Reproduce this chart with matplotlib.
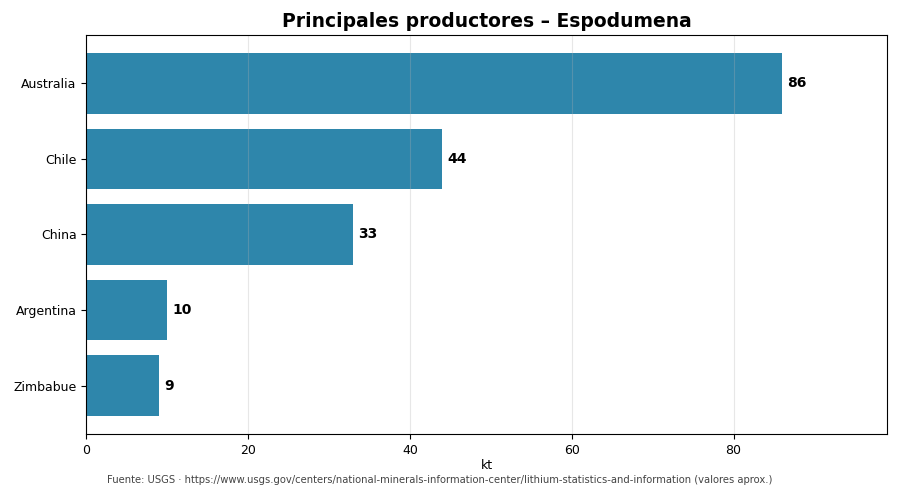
import matplotlib
matplotlib.use("Agg")
import matplotlib.pyplot as plt

# datos (kt, valores aproximados)
paises = ["Australia", "Chile", "China", "Argentina", "Zimbabue"]
produccion = [86, 44, 33, 10, 9]

fig, ax = plt.subplots(figsize=(9, 4.86), dpi=100)
fig.subplots_adjust(left=0.096, right=0.985, top=0.928, bottom=0.107)

pos = list(range(len(paises)))[::-1]
ax.barh(pos, produccion, height=0.8, color="#2e86ab")
ax.set_yticks(pos)
ax.set_yticklabels(paises)
ax.tick_params(labelsize=9)

for p, v in zip(pos, produccion):
    ax.text(v + 0.6, p, str(v), va="center", ha="left", fontsize=10, fontweight="bold")

ax.set_xlim(0, max(produccion) * 1.15)
ax.grid(axis="x", alpha=0.3)
ax.set_xlabel("kt", fontsize=9, labelpad=2)
ax.set_title("Principales productores – Espodumena", fontsize=13.5, fontweight="bold")

fig.text(0.489, 0.002,
         "Fuente: USGS · https://www.usgs.gov/centers/national-minerals-information-center/lithium-statistics-and-information (valores aprox.)",
         ha="center", va="bottom", fontsize=7.2, color="#444444")

fig.savefig("out.png", dpi=100)
